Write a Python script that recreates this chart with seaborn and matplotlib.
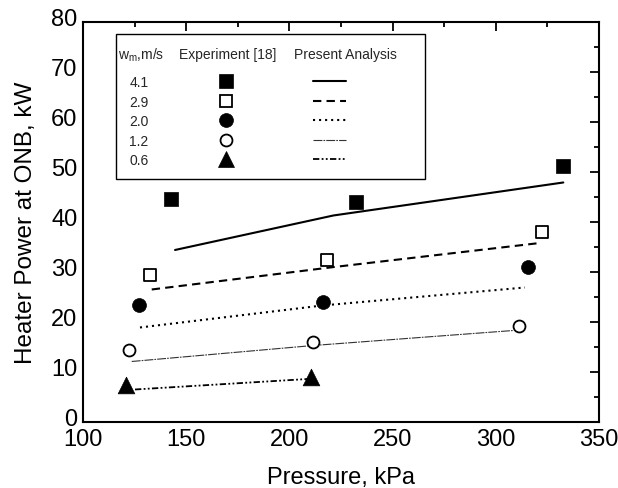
import numpy as np
import pandas as pd
import seaborn as sns
import matplotlib
matplotlib.use("Agg")
import matplotlib.pyplot as plt
from matplotlib.lines import Line2D
from matplotlib.patches import Rectangle
from matplotlib.legend_handler import HandlerTuple
from matplotlib.transforms import ScaledTranslation

# ---------------- data ----------------
velocities = ["4.1", "2.9", "2.0", "1.2", "0.6"]

exp_p_41 = [142.5, 232.3, 332.4]
exp_q_41 = [44.6, 43.9, 51.1]
exp_p_29 = [132.5, 218.0, 322.2]
exp_q_29 = [29.3, 32.3, 37.9]
exp_p_20 = [127.3, 216.1, 315.8]
exp_q_20 = [23.3, 23.9, 30.9]
exp_p_12 = [122.5, 211.6, 311.2]
exp_q_12 = [14.4, 15.9, 19.1]
exp_p_06 = [120.8, 210.3]
exp_q_06 = [7.3, 8.9]

ana_p_41 = [144.6, 221.3, 332.7]
ana_q_41 = [34.4, 41.3, 47.9]
ana_p_29 = [133.3, 219.7, 321.4]
ana_q_29 = [26.5, 30.9, 35.8]
ana_p_20 = [127.6, 216.0, 314.1]
ana_q_20 = [18.9, 23.3, 26.9]
ana_p_12 = [123.6, 211.6, 308.5]
ana_q_12 = [12.1, 15.3, 18.3]
ana_p_06 = [125.2, 209.0]
ana_q_06 = [6.5, 8.6]

x_ticks = [100, 150, 200, 250, 300, 350]
y_ticks = [0, 10, 20, 30, 40, 50, 60, 70, 80]

exp_p = [exp_p_41, exp_p_29, exp_p_20, exp_p_12, exp_p_06]
exp_q = [exp_q_41, exp_q_29, exp_q_20, exp_q_12, exp_q_06]
ana_p = [ana_p_41, ana_p_29, ana_p_20, ana_p_12, ana_p_06]
ana_q = [ana_q_41, ana_q_29, ana_q_20, ana_q_12, ana_q_06]

exp_df = pd.concat([pd.DataFrame({"p": p, "q": q, "w": v})
                    for v, p, q in zip(velocities, exp_p, exp_q)], ignore_index=True)
ana_df = pd.concat([pd.DataFrame({"p": p, "q": q, "w": v})
                    for v, p, q in zip(velocities, ana_p, ana_q)], ignore_index=True)

# ---------------- styles ----------------
marker_styles = {
    "4.1": dict(marker="s", ms=9.5, fc="black", ec="black", mew=0.5),
    "2.9": dict(marker="s", ms=8.4, fc="white", ec="black", mew=1.3),
    "2.0": dict(marker="o", ms=10.0, fc="black", ec="black", mew=0.5),
    "1.2": dict(marker="o", ms=8.6, fc="white", ec="black", mew=1.3),
    "0.6": dict(marker="^", ms=12.0, fc="black", ec="black", mew=0.5),
}
line_styles = {
    "4.1": dict(ls="-", lw=1.5, color="black"),
    "2.9": dict(ls=(0, (4.0, 2.5)), lw=1.5, color="black"),
    "2.0": dict(ls=(0, (1.0, 1.9)), lw=1.5, color="black"),
    "1.2": dict(ls=(0, (8.0, 1.0, 1.5, 1.0)), lw=0.8, color="#333333"),
    "0.6": dict(ls=(0, (3.5, 1.3, 1.0, 1.3, 1.0, 1.3)), lw=1.3, color="black"),
}

sns.set_theme(style="white")
plt.rcParams["font.family"] = ["Liberation Sans", "DejaVu Sans"]
plt.rcParams["mathtext.fontset"] = "custom"
plt.rcParams["mathtext.rm"] = "Liberation Sans"

fig = plt.figure(figsize=(6.18, 4.89), dpi=100)
ax = fig.add_axes([0.1343, 0.135, 0.835, 0.818])

for v in velocities:
    sub = ana_df[ana_df["w"] == v]
    st = line_styles[v]
    sns.lineplot(data=sub, x="p", y="q", ax=ax, sort=False, estimator=None,
                 color=st["color"], linewidth=st["lw"], linestyle=st["ls"],
                 legend=False)

for v in velocities:
    sub = exp_df[exp_df["w"] == v]
    m = marker_styles[v]
    sns.scatterplot(data=sub, x="p", y="q", ax=ax, marker=m["marker"],
                    s=m["ms"] ** 2, facecolor=m["fc"], edgecolor=m["ec"],
                    linewidth=m["mew"], legend=False, zorder=5)

ax.set_xlim(100, 350)
ax.set_ylim(0, 80)
ax.set_xticks(x_ticks)
ax.set_yticks(y_ticks)
ax.set_xticks(np.arange(125, 350, 50), minor=True)
ax.set_yticks(np.arange(5, 80, 10), minor=True)
ax.tick_params(which="both", direction="in", top=True, right=True,
               labelsize=17, colors="black")
ax.tick_params(which="major", length=6.5, width=1.3, pad=4)
ax.tick_params(which="minor", length=3.5, width=1.3)
for s in ax.spines.values():
    s.set_linewidth(1.5)
    s.set_color("black")
ax.set_xlabel("Pressure, kPa", fontsize=17, color="black", labelpad=11.5)
ax.set_ylabel("Heater Power at ONB, kW", fontsize=17.5, color="black", labelpad=10)

# y tick labels sit a few pixels above their ticks in the reference
shift = ScaledTranslation(0, 5 / 100, fig.dpi_scale_trans)
for t in ax.yaxis.get_major_ticks():
    t.label1.set_transform(t.label1.get_transform() + shift)

# ---------------- legend ----------------
fs = 10
handles = []
for v in velocities:
    m = marker_styles[v]
    st = line_styles[v]
    mk = Line2D([], [], ls="none", marker=m["marker"], markersize=m["ms"],
                markerfacecolor=m["fc"], markeredgecolor=m["ec"], markeredgewidth=m["mew"])
    blank = Line2D([], [], ls="none")
    ln = Line2D([], [], ls=st["ls"], lw=st["lw"], color=st["color"])
    handles.append((mk, blank, blank, ln))

leg = ax.legend(handles, velocities, loc="upper left", bbox_to_anchor=(0.0891, 0.8675),
                frameon=False, fontsize=fs, markerfirst=False, borderpad=0,
                borderaxespad=0, handlelength=9.8, handletextpad=4.42,
                labelspacing=0.40,
                handler_map={tuple: HandlerTuple(ndivide=None, pad=0.11)})

ax.add_patch(Rectangle((0.064, 0.6075), 0.599, 0.3625, transform=ax.transAxes,
                       fill=False, lw=1.0, ec="black", zorder=6))
ax.text(0.0678, 0.92, r"$\mathregular{w_m}$,m/s", transform=ax.transAxes,
        fontsize=fs, ha="left", va="center")
ax.text(0.28, 0.92, "Experiment [18]", transform=ax.transAxes,
        fontsize=fs, ha="center", va="center")
ax.text(0.5087, 0.92, "Present Analysis", transform=ax.transAxes,
        fontsize=fs, ha="center", va="center")

fig.savefig("out.png", dpi=100)
